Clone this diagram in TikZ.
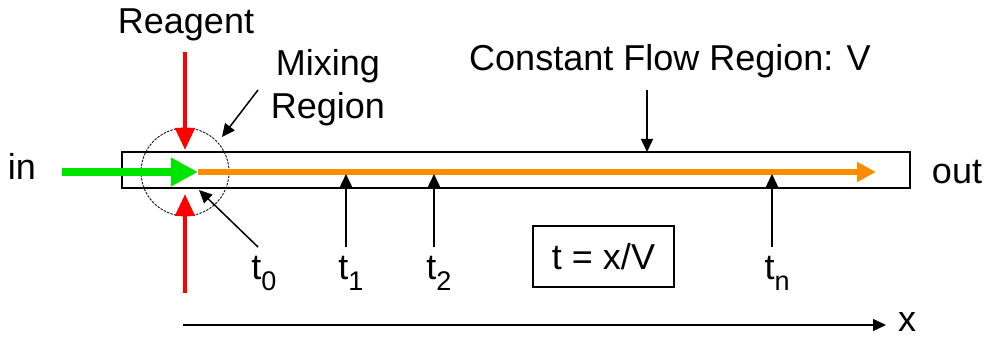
\documentclass[tikz,border=0pt]{standalone}
\usepackage{fontspec}
\setmainfont{Liberation Sans}
\usetikzlibrary{arrows.meta}
\newcommand{\tsub}[1]{t\raisebox{-0.32em}{\fontsize{27}{30}\selectfont #1}}
\tikzset{
  lbl/.style={font=\fontsize{36}{43}\selectfont, inner sep=0pt},
  pointer/.style={draw=black, line width=1.5, -{Triangle[length=13, width=12]}},
  reagent/.style={draw=red, line width=4.5, -{Triangle[length=22, width=19]}},
  feed/.style={draw=green!90!black, line width=8, -{Triangle[length=27, width=27]}},
  flow/.style={draw=orange!90!yellow, line width=5.5, -{Triangle[length=19, width=19]}},
}
\begin{document}
\begin{tikzpicture}[x=1pt, y=-1pt]
\useasboundingbox (0,0) rectangle (993,339);

% tube
\draw[line width=1.5] (122,152) rectangle (910,188);

% mixing region
\coordinate (mix) at (185,172);
\draw[line width=1, dash pattern=on 2.5 off 1.2, black!85] (mix) circle (44);

% coordinates along the flow line
\coordinate (feedstart) at (62,172);
\coordinate (flowstart) at (198,172);
\coordinate (flowend) at (876,172);
\draw[flow] (flowstart) -- (flowend);
\draw[feed] (feedstart) -- (flowstart);

% reagent inlets
\coordinate (rtop) at (185,52);
\coordinate (rtopend) at (185,150);
\coordinate (rbot) at (185,293);
\coordinate (rbotend) at (185,194);
\draw[reagent] (rtop) -- (rtopend);
\draw[reagent] (rbot) -- (rbotend);

% labels
\node[lbl] (in) at (22,166) {in};
\node[lbl] (out) at (957,172) {out};
\node[lbl] (reag) at (186,25) {Reagent};
\node[lbl, align=center] (mixlbl) at (328,88) {Mixing\\Region};
\node[lbl] (cfr) at (670,61) {Constant Flow Region: V};
\node[lbl, anchor=north] (t0) at (264,256) {\tsub{0}};
\node[lbl, anchor=north] (t1) at (351,256) {\tsub{1}};
\node[lbl, anchor=north] (t2) at (439,256) {\tsub{2}};
\node[lbl, anchor=north] (tn) at (777,256) {\tsub{n}};
\node[lbl, draw, line width=1.5, minimum width=141, minimum height=61] (eq) at (603.5,256.5) {t = x/V};
\node[lbl] (xl) at (907,322) {x};

% pointers
\coordinate (mixtip) at (222,137);
\coordinate (mixtail) at (258,90);
\draw[pointer] (mixtail) -- (mixtip);
\coordinate (t0tip) at (199,190);
\coordinate (t0tail) at (258,247);
\draw[pointer] (t0tail) -- (t0tip);
\coordinate (vtail) at (647,90);
\coordinate (vtip) at (647,152);
\draw[pointer] (vtail) -- (vtip);
\foreach \px in {346, 434, 772} {
  \draw[pointer] (\px,247) -- (\px,174);
}

% distance axis
\coordinate (ax0) at (183,325);
\coordinate (ax1) at (886,325);
\draw[pointer] (ax0) -- (ax1);
\end{tikzpicture}
\end{document}
